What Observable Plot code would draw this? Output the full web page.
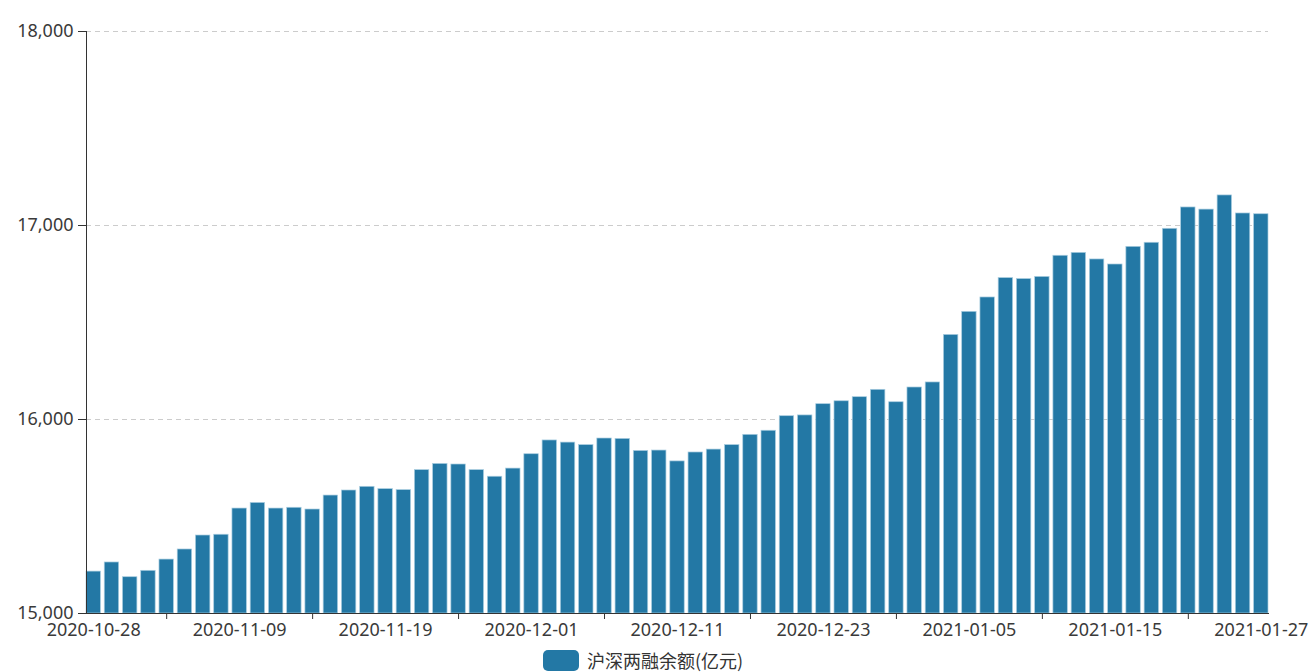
<!DOCTYPE html>
<html>
<head>
<meta charset="utf-8">
<script src="https://cdn.jsdelivr.net/npm/d3@7"></script>
<script src="https://cdn.jsdelivr.net/npm/@observablehq/plot@0.6"></script>
<style>
  html, body { margin: 0; padding: 0; background: #fff; }
  body { width: 1311px; height: 672px; position: relative; overflow: hidden;
         font-family: "Noto Sans", "Noto Sans CJK SC", sans-serif; }
  #legend { position: absolute; left: 543px; top: 650px; display: flex; align-items: center;
            font-family: "Noto Sans CJK SC", sans-serif; font-size: 18px; color: #333; line-height: 21px; }
  #legend .sw { width: 36px; height: 21px; border-radius: 5px; background: #2378a5; margin-right: 8px; }
</style>
</head>
<body>
<div id="chart"></div>
<div id="legend"><span class="sw"></span><span id="legend-text"></span></div>
<script>
const seriesName = "沪深两融余额(亿元)";
const dates = [
  "2020-10-28","2020-10-29","2020-10-30","2020-11-02","2020-11-03","2020-11-04","2020-11-05","2020-11-06",
  "2020-11-09","2020-11-10","2020-11-11","2020-11-12","2020-11-13","2020-11-16","2020-11-17","2020-11-18",
  "2020-11-19","2020-11-20","2020-11-23","2020-11-24","2020-11-25","2020-11-26","2020-11-27","2020-11-30",
  "2020-12-01","2020-12-02","2020-12-03","2020-12-04","2020-12-07","2020-12-08","2020-12-09","2020-12-10",
  "2020-12-11","2020-12-14","2020-12-15","2020-12-16","2020-12-17","2020-12-18","2020-12-21","2020-12-22",
  "2020-12-23","2020-12-24","2020-12-25","2020-12-28","2020-12-29","2020-12-30","2020-12-31","2021-01-04",
  "2021-01-05","2021-01-06","2021-01-07","2021-01-08","2021-01-11","2021-01-12","2021-01-13","2021-01-14",
  "2021-01-15","2021-01-18","2021-01-19","2021-01-20","2021-01-21","2021-01-22","2021-01-25","2021-01-26",
  "2021-01-27"
];
const values = [
  15216,15263,15187,15220,15278,15330,15402,15406,15541,15570,
  15541,15545,15536,15608,15634,15653,15641,15636,15739,15771,
  15768,15739,15705,15747,15821,15892,15881,15868,15902,15900,
  15838,15840,15784,15830,15845,15868,15921,15942,16017,16021,
  16079,16094,16115,16153,16089,16165,16191,16436,16555,16629,
  16729,16724,16735,16844,16859,16825,16799,16890,16911,16983,
  17093,17082,17155,17062,17058
];
const xLabels = ["2020-10-28","2020-11-09","2020-11-19","2020-12-01","2020-12-11","2020-12-23","2021-01-05","2021-01-15","2021-01-27"];
const xTickMarks = ["2020-11-03","2020-11-13","2020-11-25","2020-12-07","2020-12-17","2020-12-29","2021-01-11","2021-01-21"];
const yTicks = [15000, 16000, 17000, 18000];
const yDomain = [15000, 18000];

const data = dates.map((d, i) => ({date: d, value: values[i]}));
const barColor = "#2378a5";

const chart = Plot.plot({
  width: 1311,
  height: 645,
  marginLeft: 86,
  marginRight: 43,
  marginTop: 31,
  marginBottom: 32,
  style: {fontFamily: '"Noto Sans", "Noto Sans CJK SC", sans-serif', fontSize: "18px", color: "#333", background: "#fff"},
  x: {type: "band", domain: dates, paddingInner: 0.21, paddingOuter: 0, round: false, label: null},
  y: {domain: yDomain, label: null},
  marks: [
    Plot.gridY(yTicks.slice(1), {stroke: "#cccccc", strokeOpacity: 1, strokeDasharray: "5,4"}),
    Plot.barY(data, {x: "date", y1: yDomain[0], y2: "value", fill: barColor, stroke: "#a9cde0", strokeWidth: 0.7}),
    Plot.axisX(xLabels, {tickSize: 0, tickPadding: 10, fontSize: 18, fill: "#3a3a3a", label: null}),
    Plot.axisX(xTickMarks, {tickSize: 6, text: null, stroke: "#333", label: null}),
    Plot.axisY(yTicks, {tickSize: 8, tickPadding: 5, fontSize: 18, fill: "#3a3a3a", stroke: "#333", tickFormat: d3.format(","), label: null}),
    Plot.frame({anchor: "left", stroke: "#333"}),
    Plot.frame({anchor: "bottom", stroke: "#333"})
  ]
});
document.getElementById("chart").appendChild(chart);
document.getElementById("legend-text").textContent = seriesName;
</script>
</body>
</html>
